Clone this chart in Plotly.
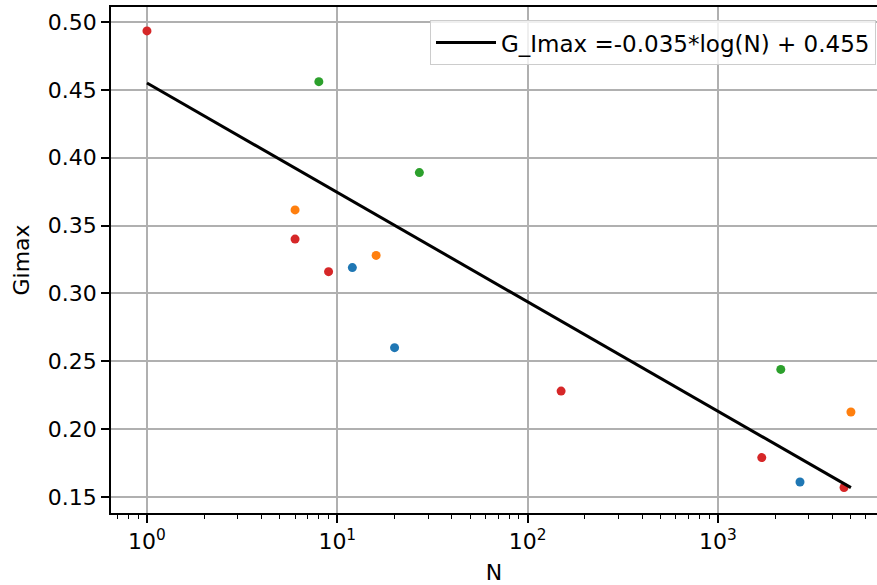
import numpy as np
import plotly.graph_objects as go

# Observed Gimax values per group, as (N, Gimax)
blue_n = [12, 20, 2700]
blue_g = [0.319, 0.260, 0.161]
orange_n = [6, 16, 5000]
orange_g = [0.3615, 0.328, 0.2126]
green_n = [8, 27, 2140]
green_g = [0.456, 0.389, 0.244]
red_n = [1, 6, 9, 150, 1700, 4600]
red_g = [0.4934, 0.340, 0.316, 0.228, 0.179, 0.157]

# Fitted model: G_Imax = a*ln(N) + b
fit_a = -0.035
fit_b = 0.455

x_tickvals = [1, 10, 100, 1000]
x_ticktext = ["10<sup>0</sup>", "10<sup>1</sup>", "10<sup>2</sup>", "10<sup>3</sup>"]
y_tickvals = [0.15, 0.20, 0.25, 0.30, 0.35, 0.40, 0.45, 0.50]

FONT = "DejaVu Sans"
FS = 22
groups = [
    (blue_n, blue_g, "#1f77b4"),
    (orange_n, orange_g, "#ff7f0e"),
    (green_n, green_g, "#2ca02c"),
    (red_n, red_g, "#d62728"),
]

fig = go.Figure()
for n, g, col in groups:
    fig.add_trace(go.Scatter(
        x=n, y=g, mode="markers", showlegend=False,
        marker=dict(color=col, size=9, line=dict(width=0)),
    ))

all_n = blue_n + orange_n + green_n + red_n
fit_x = np.geomspace(min(all_n), max(all_n), 60)
fit_y = fit_a * np.log(fit_x) + fit_b
fig.add_trace(go.Scatter(
    x=fit_x, y=fit_y, mode="lines",
    line=dict(color="black", width=3),
    name="G_Imax =-0.035*log(N) + 0.455",
))

fig.update_layout(
    width=877, height=585,
    margin=dict(l=111, r=0, t=7, b=72),
    paper_bgcolor="white", plot_bgcolor="white",
    font=dict(family=FONT, size=FS, color="black"),
    legend=dict(
        x=0.9987, y=0.974, xanchor="right", yanchor="top",
        bgcolor="rgba(255,255,255,0.8)", bordercolor="#cccccc", borderwidth=1,
        font=dict(family=FONT, size=23),
        itemwidth=60,
    ),
)

fig.update_xaxes(
    type="log", range=[-0.189, 3.836],
    tickvals=x_tickvals, ticktext=x_ticktext,
    ticks="outside", ticklen=8, tickwidth=1.5, tickcolor="black",
    showgrid=True, gridcolor="#b0b0b0", gridwidth=1.5,
    showline=True, linecolor="black", linewidth=1.8, mirror=True,
    zeroline=False,
    minor=dict(ticks="outside", ticklen=4.5, tickwidth=1.2, tickcolor="black",
               showgrid=False, dtick="D1"),
    title=dict(text="N", font=dict(family=FONT, size=FS), standoff=12),
)
fig.update_yaxes(
    range=[0.1382, 0.511],
    tickvals=y_tickvals, tickformat=".2f",
    ticks="outside", ticklen=8, tickwidth=1.5, tickcolor="black",
    showgrid=True, gridcolor="#b0b0b0", gridwidth=1.5,
    showline=True, linecolor="black", linewidth=1.8, mirror=False,
    zeroline=False,
    title=dict(text="Gimax", font=dict(family=FONT, size=FS), standoff=12),
)

fig.write_html("out.html")
